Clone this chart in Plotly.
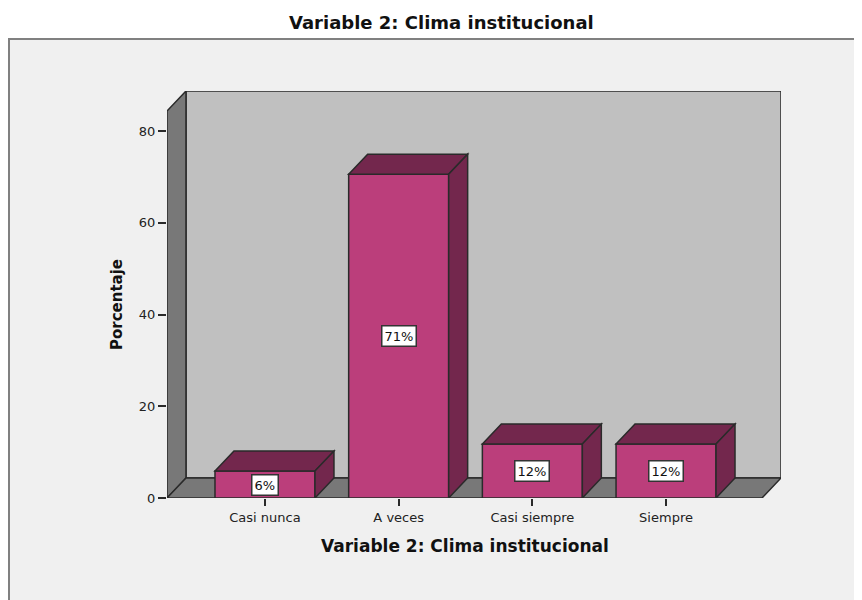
import plotly.graph_objects as go

# ---- data ----
categories = ["Casi nunca", "A veces", "Casi siempre", "Siempre"]
percentages = [5.88, 70.59, 11.76, 11.76]
y_ticks = [0, 20, 40, 60, 80]
chart_title = "Variable 2: Clima institucional"
x_title = "Variable 2: Clima institucional"
y_title = "Porcentaje"

# ---- style / geometry constants ----
FONT = "DejaVu Sans"
BAR_FRONT = "#bb3e7b"
BAR_DARK = "#73274d"
WALL_BACK = "#c0c0c0"
WALL_SIDE = "#787878"
EDGE = "#2a2a2a"
BG = "#f0f0f0"

X_MIN, X_MAX = -0.733, 3.860
Y_MIN, Y_MAX = 0.0, 88.72
DX, DY = 0.142, 4.36          # 3D depth offset in data units
BAR_W = 0.748

PAGE_OFF = 8                  # default body margin of the html page
W, H = 862 - PAGE_OFF, 600 - PAGE_OFF
PLOT_L, PLOT_R, PLOT_T, PLOT_B = 167, 781, 91, 498   # plot area in screen pixels
ML, MR = PLOT_L - PAGE_OFF, 862 - PLOT_R
MT, MB = PLOT_T - PAGE_OFF, 600 - PLOT_B
PW, PH = PLOT_R - PLOT_L, PLOT_B - PLOT_T


def px_x(p):
    return (p - PLOT_L) / PW


def px_y(p):
    return (PLOT_B - p) / PH


def poly(pts):
    return "M " + " L ".join(f"{x},{y}" for x, y in pts) + " Z"


xs = list(range(len(categories)))

fig = go.Figure()
fig.add_trace(go.Bar(
    x=xs, y=percentages, width=BAR_W,
    marker=dict(color=BAR_FRONT, line=dict(color=EDGE, width=1.5)),
    hoverinfo="skip", showlegend=False,
))

shapes = []
# outer frame
shapes.append(dict(type="rect", xref="paper", yref="paper",
                   x0=px_x(9), x1=px_x(872), y0=px_y(39), y1=px_y(612),
                   fillcolor=BG, line=dict(color="#808080", width=2), layer="below"))
# back wall
shapes.append(dict(type="path", xref="x", yref="y", layer="below",
                   path=poly([(X_MIN + DX, DY), (X_MIN + DX, Y_MAX), (X_MAX, Y_MAX), (X_MAX, DY)]),
                   fillcolor=WALL_BACK, line=dict(color=EDGE, width=1.5)))
# left side wall
shapes.append(dict(type="path", xref="x", yref="y", layer="below",
                   path=poly([(X_MIN, 0), (X_MIN, Y_MAX - DY), (X_MIN + DX, Y_MAX), (X_MIN + DX, DY)]),
                   fillcolor=WALL_SIDE, line=dict(color=EDGE, width=1.5)))
# floor
shapes.append(dict(type="path", xref="x", yref="y", layer="below",
                   path=poly([(X_MIN, 0), (X_MAX - DX, 0), (X_MAX, DY), (X_MIN + DX, DY)]),
                   fillcolor=WALL_SIDE, line=dict(color=EDGE, width=1.5)))

annotations = []
for x, v in zip(xs, percentages):
    l, r = x - BAR_W / 2, x + BAR_W / 2
    # top face
    shapes.append(dict(type="path", xref="x", yref="y", layer="above",
                       path=poly([(l, v), (l + DX, v + DY), (r + DX, v + DY), (r, v)]),
                       fillcolor=BAR_DARK, line=dict(color=EDGE, width=1.5)))
    # right face
    shapes.append(dict(type="path", xref="x", yref="y", layer="above",
                       path=poly([(r, 0), (r + DX, DY), (r + DX, v + DY), (r, v)]),
                       fillcolor=BAR_DARK, line=dict(color=EDGE, width=1.5)))
    annotations.append(dict(x=x, y=v / 2, xref="x", yref="y", text=f"{round(v)}%",
                            showarrow=False, bgcolor="white", bordercolor="#333",
                            borderwidth=1.5, borderpad=2,
                            font=dict(family=FONT, size=13, color="#111")))

annotations.append(dict(x=px_x(441), y=px_y(22), xref="paper", yref="paper",
                        text=f"<b>{chart_title}</b>", showarrow=False,
                        xanchor="center", yanchor="middle",
                        font=dict(family=FONT, size=18, color="#111")))
annotations.append(dict(x=px_x(465), y=px_y(546), xref="paper", yref="paper",
                        text=f"<b>{x_title}</b>", showarrow=False,
                        xanchor="center", yanchor="middle",
                        font=dict(family=FONT, size=17, color="#111")))
annotations.append(dict(x=px_x(117), y=px_y(305), xref="paper", yref="paper",
                        text=f"<b>{y_title}</b>", showarrow=False, textangle=-90,
                        xanchor="center", yanchor="middle",
                        font=dict(family=FONT, size=15, color="#111")))

fig.update_layout(
    width=W, height=H,
    margin=dict(l=ML, r=MR, t=MT, b=MB, pad=0),
    paper_bgcolor="white", plot_bgcolor=BG,
    shapes=shapes, annotations=annotations,
    showlegend=False,
    xaxis=dict(range=[X_MIN, X_MAX], tickvals=xs, ticktext=categories,
               showgrid=False, zeroline=False, showline=False,
               ticks="outside", ticklen=7, tickwidth=1.5, tickcolor=EDGE,
               tickfont=dict(family=FONT, size=13, color="#222"), fixedrange=True),
    yaxis=dict(range=[Y_MIN, Y_MAX], tickvals=y_ticks,
               showgrid=False, zeroline=False, showline=False,
               ticks="outside", ticklen=8, tickwidth=1.5, tickcolor=EDGE,
               tickfont=dict(family=FONT, size=13, color="#222"), fixedrange=True),
)

fig.write_html("out.html")
